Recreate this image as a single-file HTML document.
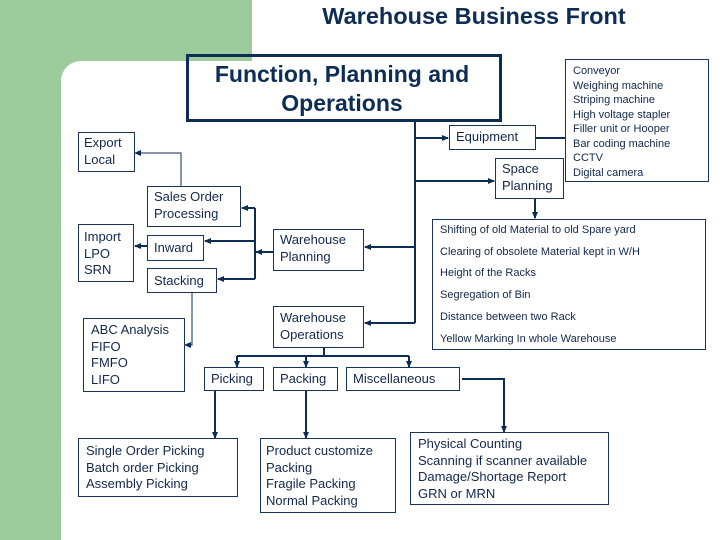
<!DOCTYPE html>
<html><head><meta charset="utf-8"><style>
body{margin:0;width:720px;height:540px;position:relative;background:#fff;overflow:hidden;font-family:"Liberation Sans",sans-serif;color:#13294b}
.g{position:absolute;background:#9dcb9b}
.b{position:absolute;border:1px solid #1a3458;box-sizing:border-box;font-size:13px;line-height:16.5px;padding:2px 6px;background:#fff;white-space:nowrap}
svg{position:absolute;left:0;top:0}
</style></head><body>
<div class="g" style="left:0;top:0;width:252px;height:61px"></div>
<div class="g" style="left:0;top:0;width:61px;height:540px"></div>
<div class="g" style="left:61px;top:61px;width:22px;height:22px"></div>
<div style="position:absolute;left:61px;top:61px;width:40px;height:40px;background:#fff;border-top-left-radius:20px"></div>
<div style="position:absolute;left:274px;top:3px;width:400px;text-align:center;font-size:23.5px;font-weight:bold;color:#0d2d55">Warehouse Business Front</div>
<div style="position:absolute;left:186px;top:54px;width:316px;height:68px;border:3px solid #0d2d55;box-sizing:border-box;text-align:center;font-size:23px;font-weight:bold;line-height:29px;padding-top:3px;padding-right:4px;color:#0d2d55">Function, Planning and<br>Operations</div>
<svg width="720" height="540">
<defs><marker id="a" markerUnits="userSpaceOnUse" markerWidth="7" markerHeight="7" refX="6" refY="3.5" orient="auto"><path d="M0,0.5L7,3.5L0,6.5z" fill="#0d2d55"/></marker></defs>
<g stroke="#0d2d55" stroke-width="2" fill="none">
<path d="M415 122V323"/>
<path d="M415 138H448" marker-end="url(#a)"/>
<path d="M536 138H574" marker-end="url(#a)"/>
<path d="M415 181H494" marker-end="url(#a)"/>
<path d="M535 199V218" marker-end="url(#a)"/>
<path d="M415 247H365" marker-end="url(#a)"/>
<path d="M415 323H365" marker-end="url(#a)"/>
<path d="M273 252H256" marker-end="url(#a)"/>
<path d="M255 208V279"/>
<path d="M255 208H242" marker-end="url(#a)"/>
<path d="M255 241H205" marker-end="url(#a)"/>
<path d="M255 279H218" marker-end="url(#a)"/>
<path d="M147 246H135" marker-end="url(#a)"/>
<path d="M324 348V356M237 356H409"/>
<path d="M237 356V367" marker-end="url(#a)"/><path d="M306 356V367" marker-end="url(#a)"/><path d="M409 356V367" marker-end="url(#a)"/>
<path d="M215 391V438" marker-end="url(#a)"/>
<path d="M306 391V438" marker-end="url(#a)"/>
<path d="M462 379H504V432" marker-end="url(#a)"/>
</g>
<g stroke="#0d2d55" stroke-width="1" fill="none">
<path d="M181 186V153H135" marker-end="url(#a)"/>
<path d="M192 293V345H185" marker-end="url(#a)"/>
</g>
</svg>
<div class="b" style="left:78px;top:132px;width:57px;height:40px;padding:2px 5px">Export<br>Local</div>
<div class="b" style="left:147px;top:186px;width:94px;height:41px">Sales Order<br>Processing</div>
<div class="b" style="left:78px;top:224px;width:56px;height:58px;padding:4px 5px">Import<br>LPO<br>SRN</div>
<div class="b" style="left:147px;top:235px;width:57px;height:26px;padding-top:4px">Inward</div>
<div class="b" style="left:147px;top:268px;width:70px;height:25px;padding-top:4px">Stacking</div>
<div class="b" style="left:273px;top:229px;width:91px;height:42px">Warehouse<br>Planning</div>
<div class="b" style="left:273px;top:306px;width:91px;height:42px;padding-top:3px">Warehouse<br>Operations</div>
<div class="b" style="left:449px;top:125px;width:87px;height:25px;padding-top:3px">Equipment</div>
<div class="b" style="left:495px;top:158px;width:69px;height:41px">Space<br>Planning</div>
<div class="b" style="left:565px;top:59px;width:144px;height:123px;font-size:11px;line-height:14.5px;padding:4px 7px">Conveyor<br>Weighing machine<br>Striping machine<br>High voltage stapler<br>Filler unit or Hooper<br>Bar coding machine<br>CCTV<br>Digital camera</div>
<div class="b" style="left:432px;top:219px;width:274px;height:131px;font-size:11px;line-height:21.7px;padding:0 7px">Shifting of old Material to old Spare yard<br>Clearing of obsolete Material kept in W/H<br>Height of the Racks<br>Segregation of Bin<br>Distance between two Rack<br>Yellow Marking In whole Warehouse</div>
<div class="b" style="left:83px;top:318px;width:102px;height:74px;padding:3px 7px">ABC Analysis<br>FIFO<br>FMFO<br>LIFO</div>
<div class="b" style="left:204px;top:367px;width:60px;height:24px;padding-top:3px">Picking</div>
<div class="b" style="left:273px;top:367px;width:65px;height:24px;padding-top:3px">Packing</div>
<div class="b" style="left:346px;top:367px;width:114px;height:24px;padding-top:3px">Miscellaneous</div>
<div class="b" style="left:78px;top:438px;width:160px;height:59px;padding:4px 7px">Single Order Picking<br>Batch order Picking<br>Assembly Picking</div>
<div class="b" style="left:260px;top:438px;width:136px;height:75px;padding:4px 5px">Product customize<br>Packing<br>Fragile Packing<br>Normal Packing</div>
<div class="b" style="left:410px;top:432px;width:199px;height:73px;padding:3px 7px">Physical Counting<br>Scanning if scanner available<br>Damage/Shortage Report<br>GRN or MRN</div>
</body></html>
